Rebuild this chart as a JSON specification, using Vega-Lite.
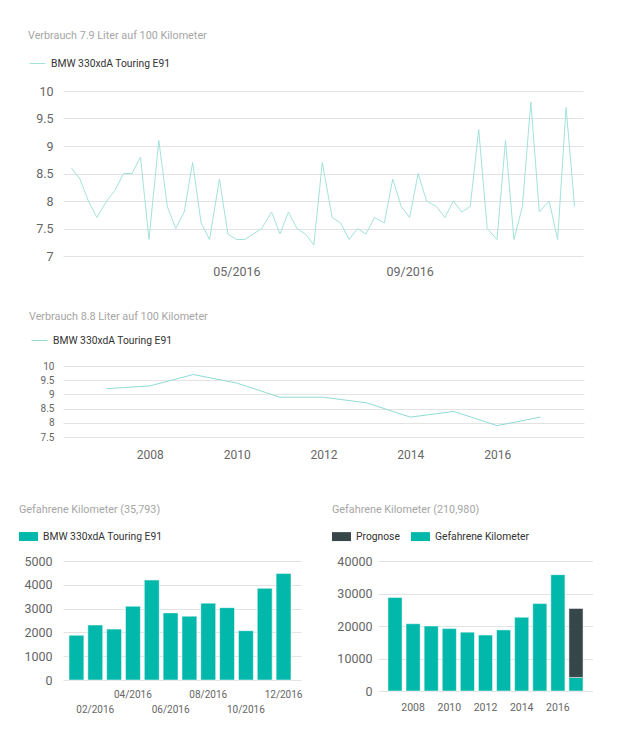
{
  "$schema": "https://vega.github.io/schema/vega-lite/v6.json",
  "background": "white",
  "padding": {"top": 30, "left": 14, "right": 0, "bottom": 0},
  "spacing": 33,
  "resolve": {"scale": {"color": "independent"}, "legend": {"color": "independent"}},
  "datasets": {
    "verbrauch_monat": [
      {"datum": "2016-01-05", "verbrauch": 8.6, "fahrzeug": "BMW 330xdA Touring E91"},
      {"datum": "2016-01-11", "verbrauch": 8.4, "fahrzeug": "BMW 330xdA Touring E91"},
      {"datum": "2016-01-17", "verbrauch": 8.0, "fahrzeug": "BMW 330xdA Touring E91"},
      {"datum": "2016-01-23", "verbrauch": 7.7, "fahrzeug": "BMW 330xdA Touring E91"},
      {"datum": "2016-01-30", "verbrauch": 8.0, "fahrzeug": "BMW 330xdA Touring E91"},
      {"datum": "2016-02-05", "verbrauch": 8.2, "fahrzeug": "BMW 330xdA Touring E91"},
      {"datum": "2016-02-11", "verbrauch": 8.5, "fahrzeug": "BMW 330xdA Touring E91"},
      {"datum": "2016-02-17", "verbrauch": 8.5, "fahrzeug": "BMW 330xdA Touring E91"},
      {"datum": "2016-02-23", "verbrauch": 8.8, "fahrzeug": "BMW 330xdA Touring E91"},
      {"datum": "2016-02-29", "verbrauch": 7.3, "fahrzeug": "BMW 330xdA Touring E91"},
      {"datum": "2016-03-07", "verbrauch": 9.1, "fahrzeug": "BMW 330xdA Touring E91"},
      {"datum": "2016-03-13", "verbrauch": 7.9, "fahrzeug": "BMW 330xdA Touring E91"},
      {"datum": "2016-03-19", "verbrauch": 7.5, "fahrzeug": "BMW 330xdA Touring E91"},
      {"datum": "2016-03-25", "verbrauch": 7.8, "fahrzeug": "BMW 330xdA Touring E91"},
      {"datum": "2016-03-31", "verbrauch": 8.7, "fahrzeug": "BMW 330xdA Touring E91"},
      {"datum": "2016-04-06", "verbrauch": 7.6, "fahrzeug": "BMW 330xdA Touring E91"},
      {"datum": "2016-04-12", "verbrauch": 7.3, "fahrzeug": "BMW 330xdA Touring E91"},
      {"datum": "2016-04-19", "verbrauch": 8.4, "fahrzeug": "BMW 330xdA Touring E91"},
      {"datum": "2016-04-25", "verbrauch": 7.4, "fahrzeug": "BMW 330xdA Touring E91"},
      {"datum": "2016-05-01", "verbrauch": 7.3, "fahrzeug": "BMW 330xdA Touring E91"},
      {"datum": "2016-05-07", "verbrauch": 7.3, "fahrzeug": "BMW 330xdA Touring E91"},
      {"datum": "2016-05-13", "verbrauch": 7.4, "fahrzeug": "BMW 330xdA Touring E91"},
      {"datum": "2016-05-19", "verbrauch": 7.5, "fahrzeug": "BMW 330xdA Touring E91"},
      {"datum": "2016-05-26", "verbrauch": 7.8, "fahrzeug": "BMW 330xdA Touring E91"},
      {"datum": "2016-06-01", "verbrauch": 7.4, "fahrzeug": "BMW 330xdA Touring E91"},
      {"datum": "2016-06-07", "verbrauch": 7.8, "fahrzeug": "BMW 330xdA Touring E91"},
      {"datum": "2016-06-13", "verbrauch": 7.5, "fahrzeug": "BMW 330xdA Touring E91"},
      {"datum": "2016-06-19", "verbrauch": 7.4, "fahrzeug": "BMW 330xdA Touring E91"},
      {"datum": "2016-06-25", "verbrauch": 7.2, "fahrzeug": "BMW 330xdA Touring E91"},
      {"datum": "2016-07-01", "verbrauch": 8.7, "fahrzeug": "BMW 330xdA Touring E91"},
      {"datum": "2016-07-08", "verbrauch": 7.7, "fahrzeug": "BMW 330xdA Touring E91"},
      {"datum": "2016-07-14", "verbrauch": 7.6, "fahrzeug": "BMW 330xdA Touring E91"},
      {"datum": "2016-07-20", "verbrauch": 7.3, "fahrzeug": "BMW 330xdA Touring E91"},
      {"datum": "2016-07-26", "verbrauch": 7.5, "fahrzeug": "BMW 330xdA Touring E91"},
      {"datum": "2016-08-01", "verbrauch": 7.4, "fahrzeug": "BMW 330xdA Touring E91"},
      {"datum": "2016-08-07", "verbrauch": 7.7, "fahrzeug": "BMW 330xdA Touring E91"},
      {"datum": "2016-08-14", "verbrauch": 7.6, "fahrzeug": "BMW 330xdA Touring E91"},
      {"datum": "2016-08-20", "verbrauch": 8.4, "fahrzeug": "BMW 330xdA Touring E91"},
      {"datum": "2016-08-26", "verbrauch": 7.9, "fahrzeug": "BMW 330xdA Touring E91"},
      {"datum": "2016-09-01", "verbrauch": 7.7, "fahrzeug": "BMW 330xdA Touring E91"},
      {"datum": "2016-09-07", "verbrauch": 8.5, "fahrzeug": "BMW 330xdA Touring E91"},
      {"datum": "2016-09-13", "verbrauch": 8.0, "fahrzeug": "BMW 330xdA Touring E91"},
      {"datum": "2016-09-20", "verbrauch": 7.9, "fahrzeug": "BMW 330xdA Touring E91"},
      {"datum": "2016-09-26", "verbrauch": 7.7, "fahrzeug": "BMW 330xdA Touring E91"},
      {"datum": "2016-10-02", "verbrauch": 8.0, "fahrzeug": "BMW 330xdA Touring E91"},
      {"datum": "2016-10-08", "verbrauch": 7.8, "fahrzeug": "BMW 330xdA Touring E91"},
      {"datum": "2016-10-14", "verbrauch": 7.9, "fahrzeug": "BMW 330xdA Touring E91"},
      {"datum": "2016-10-20", "verbrauch": 9.3, "fahrzeug": "BMW 330xdA Touring E91"},
      {"datum": "2016-10-26", "verbrauch": 7.5, "fahrzeug": "BMW 330xdA Touring E91"},
      {"datum": "2016-11-02", "verbrauch": 7.3, "fahrzeug": "BMW 330xdA Touring E91"},
      {"datum": "2016-11-08", "verbrauch": 9.1, "fahrzeug": "BMW 330xdA Touring E91"},
      {"datum": "2016-11-14", "verbrauch": 7.3, "fahrzeug": "BMW 330xdA Touring E91"},
      {"datum": "2016-11-20", "verbrauch": 7.9, "fahrzeug": "BMW 330xdA Touring E91"},
      {"datum": "2016-11-26", "verbrauch": 9.8, "fahrzeug": "BMW 330xdA Touring E91"},
      {"datum": "2016-12-02", "verbrauch": 7.8, "fahrzeug": "BMW 330xdA Touring E91"},
      {"datum": "2016-12-09", "verbrauch": 8.0, "fahrzeug": "BMW 330xdA Touring E91"},
      {"datum": "2016-12-15", "verbrauch": 7.3, "fahrzeug": "BMW 330xdA Touring E91"},
      {"datum": "2016-12-21", "verbrauch": 9.7, "fahrzeug": "BMW 330xdA Touring E91"},
      {"datum": "2016-12-27", "verbrauch": 7.9, "fahrzeug": "BMW 330xdA Touring E91"}
    ],
    "verbrauch_jahr": [
      {"jahr": 2007, "verbrauch": 9.2, "fahrzeug": "BMW 330xdA Touring E91"},
      {"jahr": 2008, "verbrauch": 9.3, "fahrzeug": "BMW 330xdA Touring E91"},
      {"jahr": 2009, "verbrauch": 9.7, "fahrzeug": "BMW 330xdA Touring E91"},
      {"jahr": 2010, "verbrauch": 9.4, "fahrzeug": "BMW 330xdA Touring E91"},
      {"jahr": 2011, "verbrauch": 8.9, "fahrzeug": "BMW 330xdA Touring E91"},
      {"jahr": 2012, "verbrauch": 8.9, "fahrzeug": "BMW 330xdA Touring E91"},
      {"jahr": 2013, "verbrauch": 8.7, "fahrzeug": "BMW 330xdA Touring E91"},
      {"jahr": 2014, "verbrauch": 8.2, "fahrzeug": "BMW 330xdA Touring E91"},
      {"jahr": 2015, "verbrauch": 8.4, "fahrzeug": "BMW 330xdA Touring E91"},
      {"jahr": 2016, "verbrauch": 7.9, "fahrzeug": "BMW 330xdA Touring E91"},
      {"jahr": 2017, "verbrauch": 8.2, "fahrzeug": "BMW 330xdA Touring E91"}
    ],
    "km_monat": [
      {"monat": "01/2016", "km": 1880, "fahrzeug": "BMW 330xdA Touring E91"},
      {"monat": "02/2016", "km": 2310, "fahrzeug": "BMW 330xdA Touring E91"},
      {"monat": "03/2016", "km": 2140, "fahrzeug": "BMW 330xdA Touring E91"},
      {"monat": "04/2016", "km": 3100, "fahrzeug": "BMW 330xdA Touring E91"},
      {"monat": "05/2016", "km": 4200, "fahrzeug": "BMW 330xdA Touring E91"},
      {"monat": "06/2016", "km": 2820, "fahrzeug": "BMW 330xdA Touring E91"},
      {"monat": "07/2016", "km": 2680, "fahrzeug": "BMW 330xdA Touring E91"},
      {"monat": "08/2016", "km": 3230, "fahrzeug": "BMW 330xdA Touring E91"},
      {"monat": "09/2016", "km": 3040, "fahrzeug": "BMW 330xdA Touring E91"},
      {"monat": "10/2016", "km": 2070, "fahrzeug": "BMW 330xdA Touring E91"},
      {"monat": "11/2016", "km": 3850, "fahrzeug": "BMW 330xdA Touring E91"},
      {"monat": "12/2016", "km": 4473, "fahrzeug": "BMW 330xdA Touring E91"}
    ],
    "km_jahr": [
      {"jahr": 2007, "typ": "Gefahrene Kilometer", "km": 28800},
      {"jahr": 2008, "typ": "Gefahrene Kilometer", "km": 20700},
      {"jahr": 2009, "typ": "Gefahrene Kilometer", "km": 20000},
      {"jahr": 2010, "typ": "Gefahrene Kilometer", "km": 19200},
      {"jahr": 2011, "typ": "Gefahrene Kilometer", "km": 18100},
      {"jahr": 2012, "typ": "Gefahrene Kilometer", "km": 17200},
      {"jahr": 2013, "typ": "Gefahrene Kilometer", "km": 18800},
      {"jahr": 2014, "typ": "Gefahrene Kilometer", "km": 22700},
      {"jahr": 2015, "typ": "Gefahrene Kilometer", "km": 26900},
      {"jahr": 2016, "typ": "Gefahrene Kilometer", "km": 35793},
      {"jahr": 2017, "typ": "Gefahrene Kilometer", "km": 4180},
      {"jahr": 2017, "typ": "Prognose", "km": 21220}
    ]
  },
  "vconcat": [
    {
      "width": 520,
      "height": 165,
      "data": {"name": "verbrauch_monat"},
      "title": {"text": "Verbrauch 7.9 Liter auf 100 Kilometer", "dx": 14, "offset": 14},
      "mark": {"type": "line", "strokeWidth": 1, "interpolate": "linear"},
      "encoding": {
        "x": {
          "field": "datum", "type": "temporal",
          "scale": {"domain": [{"year": 2015, "month": 12, "date": 30}, {"year": 2017, "month": 1, "date": 2}]},
          "axis": {"values": [{"year": 2016, "month": 5, "date": 1}, {"year": 2016, "month": 9, "date": 1}], "format": "%m/%Y", "labelFontSize": 12.5, "labelPadding": 9}
        },
        "y": {
          "field": "verbrauch", "type": "quantitative",
          "scale": {"domain": [7, 10]},
          "axis": {"values": [7, 7.5, 8, 8.5, 9, 9.5, 10], "format": "~f", "labelFontSize": 12.5, "labelPadding": 10, "minExtent": 49}
        },
        "color": {
          "field": "fahrzeug", "type": "nominal",
          "scale": {"range": ["#a3e2dc"]},
          "legend": {"orient": "none", "legendX": -34, "legendY": -36, "symbolType": "stroke", "symbolSize": 256, "symbolStrokeWidth": 1}
        }
      }
    },
    {
      "width": 521,
      "height": 71,
      "data": {"name": "verbrauch_jahr"},
      "title": {"text": "Verbrauch 8.8 Liter auf 100 Kilometer", "dx": 13, "offset": 10},
      "mark": {"type": "line", "strokeWidth": 1},
      "encoding": {
        "x": {
          "field": "jahr", "type": "quantitative",
          "scale": {"domain": [2006, 2018], "nice": false},
          "axis": {"values": [2008, 2010, 2012, 2014, 2016], "format": "d", "labelFontSize": 12, "labelPadding": 12, "minExtent": 34}
        },
        "y": {
          "field": "verbrauch", "type": "quantitative",
          "scale": {"domain": [7.5, 10]},
          "axis": {"values": [7.5, 8, 8.5, 9, 9.5, 10], "format": "~f", "labelFontSize": 10, "labelPadding": 9, "minExtent": 47}
        },
        "color": {
          "field": "fahrzeug", "type": "nominal",
          "scale": {"range": ["#8fdcd5"]},
          "legend": {"orient": "none", "legendX": -32, "legendY": -34, "symbolType": "stroke", "symbolSize": 256, "symbolStrokeWidth": 1}
        }
      }
    },
    {
      "spacing": 30,
      "resolve": {"scale": {"color": "independent"}, "legend": {"color": "independent"}},
      "hconcat": [
        {
          "width": 238,
          "height": 119,
          "data": {"name": "km_monat"},
          "title": {"text": "Gefahrene Kilometer (35,793)"},
          "encoding": {
            "y": {
              "field": "km", "type": "quantitative",
              "scale": {"domain": [0, 5000]},
              "axis": {"values": [0, 1000, 2000, 3000, 4000, 5000], "format": "d", "labelFontSize": 12.5, "labelPadding": 11, "minExtent": 44}
            },
            "color": {
              "field": "fahrzeug", "type": "nominal",
              "scale": {"range": ["#01B8AA"]},
              "legend": {"orient": "none", "legendX": -44, "legendY": -34, "symbolType": "M-1,-0.47L1,-0.47L1,0.47L-1,0.47Z", "symbolSize": 361, "symbolStrokeWidth": 0}
            }
          },
          "layer": [
            {
              "mark": {"type": "bar", "stroke": "white", "strokeWidth": 0.5},
              "encoding": {
                "x": {
                  "field": "monat", "type": "ordinal",
                  "scale": {"paddingInner": 0.21, "paddingOuter": 0.425, "align": 0.375},
                  "axis": {"orient": "bottom", "values": ["04/2016", "08/2016", "12/2016"], "labelAngle": 0, "labelFontSize": 10, "labelPadding": 9}
                }
              }
            },
            {
              "mark": {"type": "bar", "opacity": 0},
              "encoding": {
                "x": {
                  "field": "monat", "type": "ordinal",
                  "axis": {"orient": "bottom", "values": ["02/2016", "06/2016", "10/2016"], "labelAngle": 0, "labelFontSize": 10, "labelPadding": 24}
                }
              }
            }
          ],
          "resolve": {"axis": {"x": "independent"}}
        },
        {
          "width": 215,
          "height": 130,
          "data": {"name": "km_jahr"},
          "title": {"text": "Gefahrene Kilometer (210,980)"},
          "mark": {"type": "bar", "stroke": "white", "strokeWidth": 0.5},
          "encoding": {
            "x": {
              "field": "jahr", "type": "ordinal",
              "scale": {"paddingInner": 0.22, "paddingOuter": 0.55},
              "axis": {"labelAngle": 0, "labelFontSize": 10.5, "labelPadding": 11, "labelExpr": "datum.value % 2 == 0 ? datum.label : ''"}
            },
            "y": {
              "field": "km", "type": "quantitative", "stack": "zero",
              "scale": {"domain": [0, 40000]},
              "axis": {"values": [0, 10000, 20000, 30000, 40000], "format": "d", "labelFontSize": 12.5, "labelPadding": 6, "minExtent": 46}
            },
            "color": {
              "field": "typ", "type": "nominal",
              "scale": {"domain": ["Prognose", "Gefahrene Kilometer"], "range": ["#374649", "#01B8AA"]},
              "legend": {"orient": "none", "legendX": -46, "legendY": -34, "direction": "horizontal", "columnPadding": 11, "symbolType": "M-1,-0.47L1,-0.47L1,0.47L-1,0.47Z", "symbolSize": 361, "symbolStrokeWidth": 0}
            },
            "order": {"field": "typ", "sort": "ascending"}
          }
        }
      ]
    }
  ],
  "config": {
    "font": "Roboto",
    "view": {"stroke": null},
    "axis": {"domain": false, "ticks": false, "title": null, "labelColor": "#666666", "gridColor": "#e3e3e3", "gridWidth": 1},
    "axisX": {"grid": false},
    "axisY": {"grid": true},
    "legend": {"title": null, "labelColor": "#333333", "labelFontSize": 10.3, "labelOffset": 5, "padding": 0, "symbolOpacity": 1},
    "title": {"anchor": "start", "fontSize": 10.8, "fontWeight": "normal", "color": "#a6a6a6", "offset": 12}
  }
}
